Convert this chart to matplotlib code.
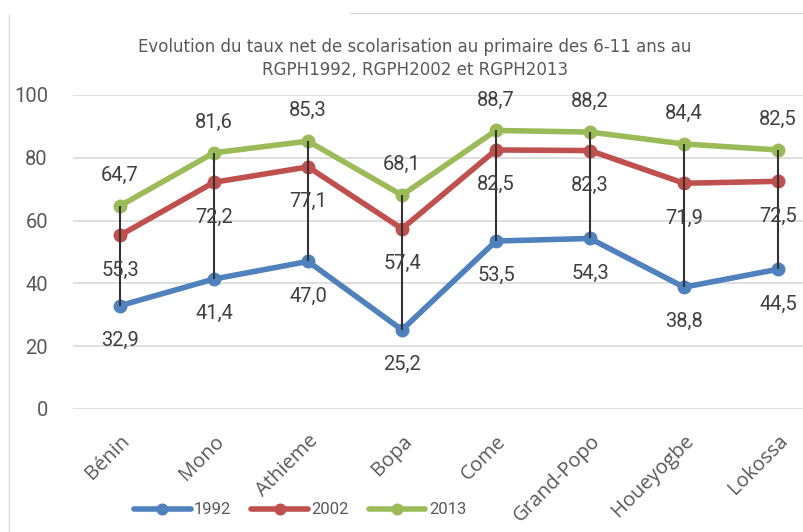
import matplotlib.pyplot as plt
import matplotlib.transforms as mtransforms
from matplotlib.lines import Line2D

# données
communes = ['Bénin', 'Mono', 'Athieme', 'Bopa', 'Come', 'Grand-Popo', 'Houeyogbe', 'Lokossa']
t1992 = [32.9, 41.4, 47.0, 25.2, 53.5, 54.3, 38.8, 44.5]
t2002 = [55.3, 72.2, 77.1, 57.4, 82.5, 82.3, 71.9, 72.5]
t2013 = [64.7, 81.6, 85.3, 68.1, 88.7, 88.2, 84.4, 82.5]
annees = ['1992', '2002', '2013']
yticks = [0, 20, 40, 60, 80, 100]

couleurs = ['#4F81BD', '#C0504D', '#9BBB59']
police = ['Roboto', 'DejaVu Sans']

fig = plt.figure(figsize=(8.04, 5.32), dpi=100)
ax = fig.add_axes([73 / 804, 1 - 409 / 532, 752 / 804, 314 / 532])

x = list(range(len(communes)))

# lignes haut-bas
ax.vlines(x, [min(a, b, c) for a, b, c in zip(t1992, t2002, t2013)],
          [max(a, b, c) for a, b, c in zip(t1992, t2002, t2013)],
          color='#333333', linewidth=1.5, zorder=4)

series = [t1992, t2002, t2013]
decal = [-25, -25, 22]
for vals, nom, col, d in zip(series, annees, couleurs, decal):
    ax.plot(x, vals, color=col, linewidth=4, marker='o', markersize=9,
            solid_capstyle='round', label=nom, zorder=3)
    for xi, v in zip(x, vals):
        ax.annotate(f'{v:.1f}'.replace('.', ','), (xi, v), xytext=(0, d),
                    textcoords='offset points', ha='center', va='center',
                    fontsize=14.5, color='#404040', family=police, zorder=6)

ax.set_xlim(-0.5, 7.5)
ax.set_ylim(0, 100)
ax.set_yticks(yticks)
ax.set_xticks(x)
ax.set_xticklabels(communes, rotation=45, ha='right', rotation_mode='anchor',
                   fontsize=14.5, color='#595959',
                   family=['Open Sans', 'DejaVu Sans'])
# léger décalage à gauche des étiquettes
decale = mtransforms.ScaledTranslation(-6 / 100, 0, fig.dpi_scale_trans)
for lab in ax.get_xticklabels():
    lab.set_transform(lab.get_transform() + decale)
ax.tick_params(axis='x', length=0, pad=16)
ax.tick_params(axis='y', length=0, pad=18, labelsize=14.5, labelcolor='#595959')
for lab in ax.get_yticklabels():
    lab.set_family(police)
ax.grid(axis='y', color='#D9D9D9', linewidth=1.2)
ax.set_axisbelow(True)
for s in ax.spines.values():
    s.set_visible(False)

fig.text(415 / 804, 1 - 47 / 532,
         'Evolution du taux net de scolarisation au primaire des 6-11 ans au',
         ha='center', va='center', fontsize=12, color='#595959',
         family=['Liberation Sans Narrow', 'DejaVu Sans'])
fig.text(415 / 804, 1 - 70 / 532, 'RGPH1992, RGPH2002 et RGPH2013',
         ha='center', va='center', fontsize=12, color='#595959',
         family=['Liberation Sans Narrow', 'DejaVu Sans'])

leg = fig.legend(loc='center', bbox_to_anchor=(300 / 804, 1 - 510 / 532),
                 ncol=3, frameon=False, handlelength=3.4, columnspacing=1.2,
                 handletextpad=0.2, markerscale=0.85,
                 prop={'family': police, 'size': 12})
for t in leg.get_texts():
    t.set_color('#595959')

# bordure du graphique
fig.add_artist(Line2D([9 / 804, 9 / 804], [0, 1 - 15 / 532], color='#D9D9D9', linewidth=1))
fig.add_artist(Line2D([350 / 804, 1], [1 - 13 / 532, 1 - 13 / 532], color='#D9D9D9', linewidth=1))

fig.savefig('out.png', dpi=100)
